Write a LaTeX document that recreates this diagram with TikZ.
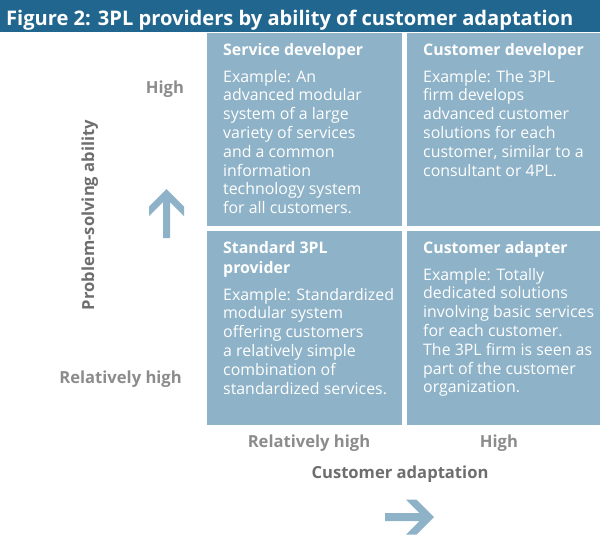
\documentclass[tikz,border=0pt]{standalone}
\usepackage{fontspec}
\setmainfont{Open Sans}
\definecolor{barblue}{HTML}{21668F}
\definecolor{boxblue}{HTML}{8EB2C7}
\definecolor{lvlgray}{HTML}{8C8C8C}
\definecolor{axisgray}{HTML}{6E6E6E}
\begin{document}
\begin{tikzpicture}[x=1pt,y=-1pt,
  quad/.style={fill=boxblue},
  boxtext/.style={anchor=base west, inner sep=0pt, text=white},
  lvl/.style={inner sep=0pt, text=lvlgray, font=\bfseries\fontsize{16.6}{18}\selectfont},
  axisname/.style={inner sep=0pt, text=axisgray, font=\bfseries\fontsize{16.6}{18}\selectfont},
  arrowshape/.style={fill=boxblue}]
\useasboundingbox (0,0) rectangle (600,542);
\fill[white] (0,0) rectangle (600,542);
% title bar
\fill[barblue] (0,0) rectangle (600,32);
\node[anchor=base west, inner sep=0pt, text=white, font=\bfseries\fontsize{20.1}{22}\selectfont] (title) at (6,25) {Figure 2: 3PL providers by ability of customer adaptation};
% quadrants
\fill[quad] (207,33) rectangle (402,226);
\fill[quad] (407,33) rectangle (600,226);
\fill[quad] (207,231) rectangle (402,425);
\fill[quad] (407,231) rectangle (600,425);
\newcommand{\bodyfont}{\fontsize{15.9}{18.8}\selectfont}
\newcommand{\headfont}{\bfseries\fontsize{15.9}{18.8}\selectfont}
\node[boxtext] (sd) at (223,55) {\parbox[t]{178pt}{\bodyfont{\headfont Service developer}\\[8.2pt]
Example: An\\ advanced modular\\ system of a large\\ variety of services\\ and a common\\ information\\ technology system\\ for all customers.}};
\node[boxtext] (cd) at (423,55) {\parbox[t]{176pt}{\bodyfont{\headfont Customer developer}\\[8.2pt]
Example: The 3PL\\ firm develops\\ advanced customer\\ solutions for each\\ customer, similar to a\\ consultant or 4PL.}};
\node[boxtext] (sp) at (223,253) {\parbox[t]{178pt}{\bodyfont{\headfont Standard 3PL}\\[1.2pt]{\headfont provider}\\[8.2pt]
Example: Standardized\\ modular system\\ offering customers\\ a relatively simple\\ combination of\\ standardized services.}};
\node[boxtext] (ca) at (423,253) {\parbox[t]{176pt}{\bodyfont{\headfont Customer adapter}\\[8.2pt]
Example: Totally\\ dedicated solutions\\ involving basic services\\ for each customer.\\ The 3PL firm is seen as\\ part of the customer\\ organization.}};
% axis labels
\node[lvl, anchor=base] (yhigh) at (165,93) {High};
\node[lvl, anchor=base east] (yrel) at (182,383) {Relatively high};
\node[axisname, rotate=90, anchor=base] (yaxis) at (94,215) {Problem-solving ability};
\node[lvl, anchor=base] (xrel) at (309,447) {Relatively high};
\node[lvl, anchor=base] (xhigh) at (499,447) {High};
\node[axisname, anchor=base] (xaxis) at (400,478) {Customer adaptation};
% arrows
\fill[arrowshape] (166.5,189) -- (149,206.5) -- (149,216) -- (163,202) -- (163,238) -- (170,238) -- (170,202) -- (184,216) -- (184,206.5) -- cycle;
\fill[arrowshape] (434,517) -- (416.5,499.5) -- (406,499.5) -- (419.5,513) -- (385,513) -- (385,521) -- (419.5,521) -- (406,534.5) -- (416.5,534.5) -- cycle;
\end{tikzpicture}
\end{document}
